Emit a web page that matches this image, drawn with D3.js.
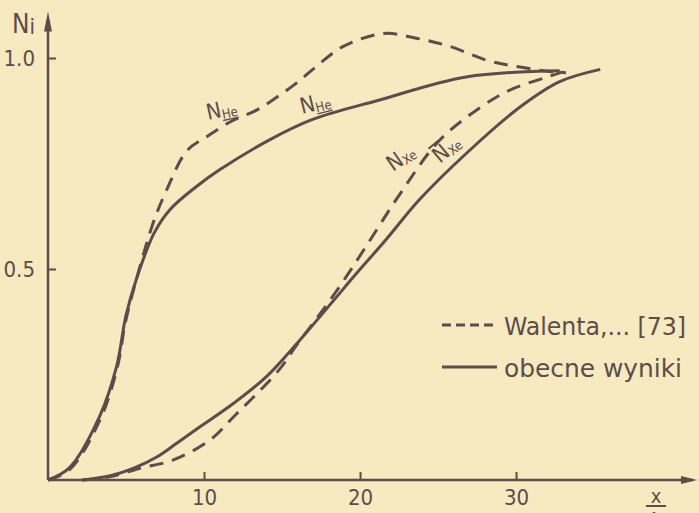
<!DOCTYPE html>
<html>
<head>
<meta charset="utf-8">
<script src="https://cdn.jsdelivr.net/npm/d3@7"></script>
<style>
  html, body { margin: 0; padding: 0; background: #f7e9c0; }
  svg { display: block; }
  text { font-family: "DejaVu Sans Condensed", "DejaVu Sans", sans-serif; font-stretch: condensed; fill: #5c4d4b; }
</style>
</head>
<body>
<div id="chart"></div>
<script>
// N_He, obecne wyniki (solid)
var heSolidX = [0, 1.4, 3.3, 4.4, 5.0, 5.7, 6.8, 7.8, 9.5, 11, 14.2, 17, 21.2, 26.8, 32.8];
var heSolidY = [0, 0.03, 0.15, 0.27, 0.39, 0.48, 0.585, 0.64, 0.695, 0.735, 0.806, 0.855, 0.90, 0.955, 0.97];

// N_He, Walenta (dashed)
var heDashX = [0, 1.4, 3.3, 4.4, 5.0, 5.7, 6.75, 7.6, 8.9, 10.2, 11.7, 13.4, 14.7, 15.9, 17.2, 18.9, 21.5, 23.6, 25.8, 28.1, 30.0, 32.4, 33.2];
var heDashY = [0, 0.025, 0.14, 0.26, 0.38, 0.48, 0.61, 0.687, 0.78, 0.814, 0.849, 0.877, 0.908, 0.94, 0.98, 1.027, 1.058, 1.047, 1.027, 0.995, 0.98, 0.967, 0.965];

// N_Xe, obecne wyniki (solid)
var xeSolidX = [2.2, 4, 5.5, 7, 8.25, 9.74, 11.9, 14.0, 16.15, 18.3, 19.6, 21.7, 23.8, 27.05, 30.3, 32.8, 35.4];
var xeSolidY = [0, 0.01, 0.028, 0.055, 0.087, 0.126, 0.182, 0.245, 0.332, 0.425, 0.482, 0.571, 0.664, 0.782, 0.885, 0.944, 0.973];

// N_Xe, Walenta (dashed)
var xeDashX = [2.2, 4, 5.9, 8.0, 10.4, 11.9, 13.4, 14.9, 15.9, 17.0, 18.5, 20.5, 22.6, 25.1, 27.8, 29.6, 32.0, 33.0];
var xeDashY = [0, 0.008, 0.028, 0.047, 0.095, 0.15, 0.205, 0.265, 0.318, 0.372, 0.448, 0.56, 0.68, 0.805, 0.885, 0.924, 0.955, 0.967];

var xTicks = [10, 20, 30];
var yTicks = [0.5, 1.0];
var legendLabels = ["Walenta,... [73]", "obecne wyniki"];

var width = 699, height = 513;
var ink = "#5c4d4b";

var svg = d3.select("#chart").append("svg")
    .attr("width", width)
    .attr("height", height);

svg.append("rect").attr("width", width).attr("height", height).attr("fill", "#f7e9c0");

var x = d3.scaleLinear().domain([0, 41.6]).range([48, 697]);
var y = d3.scaleLinear().domain([0, 1]).range([480, 58]);

// axes
var xAxis = svg.append("g")
    .attr("transform", "translate(0," + y(0) + ")")
    .call(d3.axisBottom(x).tickValues(xTicks).tickSize(-8).tickPadding(9).tickFormat(d3.format("d")));
var yAxis = svg.append("g")
    .attr("transform", "translate(" + x(0) + ",0)")
    .call(d3.axisLeft(y).tickValues(yTicks).tickSize(-8).tickPadding(13).tickFormat(d3.format(".1f")));

[xAxis, yAxis].forEach(function(a) {
    a.select(".domain").remove();
    a.selectAll(".tick line").attr("stroke", ink).attr("stroke-width", 2);
    a.selectAll(".tick text").attr("font-size", 22).attr("fill", ink);
});

svg.append("line")
    .attr("x1", x(0)).attr("y1", y(0)).attr("x2", x(41.6) - 4).attr("y2", y(0))
    .attr("stroke", ink).attr("stroke-width", 2.5);
svg.append("line")
    .attr("x1", x(0)).attr("y1", y(0)).attr("x2", x(0)).attr("y2", y(1.1) + 4)
    .attr("stroke", ink).attr("stroke-width", 2.5);

// arrow heads
var ax = x(41.6), ay = y(0);
svg.append("path").attr("d", "M" + ax + "," + ay + "L" + (ax - 16) + "," + (ay - 4) + "L" + (ax - 16) + "," + (ay + 4) + "Z").attr("fill", ink);
var bx = x(0), by = y(1.11);
svg.append("path").attr("d", "M" + bx + "," + by + "L" + (bx - 4) + "," + (by + 20) + "L" + (bx + 4) + "," + (by + 20) + "Z").attr("fill", ink);

// axis titles
var ni = svg.append("text").attr("x", 12).attr("y", 33).attr("font-size", 26);
ni.append("tspan").text("N");
ni.append("tspan").attr("font-size", 22).attr("dy", 1).text("i");

svg.append("text").attr("x", 656).attr("y", 503).attr("font-size", 20).attr("text-anchor", "middle").text("x");
svg.append("line").attr("x1", 646).attr("x2", 666).attr("y1", 506).attr("y2", 506).attr("stroke", ink).attr("stroke-width", 2);
svg.append("text").attr("x", 656).attr("y", 527).attr("font-size", 20).attr("text-anchor", "middle").text("λ");

// curves
var line = d3.line()
    .x(function(d) { return x(d[0]); })
    .y(function(d) { return y(d[1]); })
    .curve(d3.curveCatmullRom.alpha(0.5));

function pairs(xs, ys) { return xs.map(function(v, i) { return [v, ys[i]]; }); }

var series = [
    {pts: pairs(heSolidX, heSolidY), dash: null},
    {pts: pairs(xeSolidX, xeSolidY), dash: null},
    {pts: pairs(heDashX, heDashY), dash: "14,9"},
    {pts: pairs(xeDashX, xeDashY), dash: "14,9"}
];

svg.append("g").selectAll("path")
    .data(series)
    .enter()
    .append("path")
    .attr("d", function(d) { return line(d.pts); })
    .attr("fill", "none")
    .attr("stroke", ink)
    .attr("stroke-width", 3)
    .attr("stroke-linecap", "butt")
    .attr("stroke-dasharray", function(d) { return d.dash; });

// curve labels
function curveLabel(px, py, rot, sub, bar) {
    var t = svg.append("text")
        .attr("transform", "translate(" + px + "," + py + ") rotate(" + rot + ")")
        .attr("font-size", 22);
    t.append("tspan").text("N");
    t.append("tspan").attr("font-size", 13).attr("dy", 2)
        .attr("text-decoration", sub === "He" ? "underline" : null).text(sub);
    if (bar) {
        svg.append("line")
            .attr("transform", "translate(" + px + "," + py + ") rotate(" + rot + ")")
            .attr("x1", 1).attr("x2", 14).attr("y1", -19).attr("y2", -19)
            .attr("stroke", ink).attr("stroke-width", 2);
    }
}
curveLabel(208, 120, -12, "He", false);
curveLabel(302, 114, -14, "He", false);
curveLabel(393, 172, -35, "Xe", false);
curveLabel(440, 164, -40, "Xe", true);

// legend
var legend = svg.append("g").selectAll("g")
    .data(legendLabels)
    .enter()
    .append("g")
    .attr("transform", function(d, i) { return "translate(442," + (325 + i * 42) + ")"; });

legend.append("line")
    .attr("x1", 0).attr("x2", 55).attr("y1", 0).attr("y2", 0)
    .attr("stroke", ink).attr("stroke-width", 3)
    .attr("stroke-dasharray", function(d, i) { return i === 0 ? "9,5" : null; });

legend.append("text")
    .attr("x", 62).attr("y", 10)
    .attr("font-size", 25)
    .attr("textLength", function(d, i) { return i === 0 ? 182 : 178; })
    .attr("lengthAdjust", "spacingAndGlyphs")
    .text(function(d) { return d; });
</script>
</body>
</html>
